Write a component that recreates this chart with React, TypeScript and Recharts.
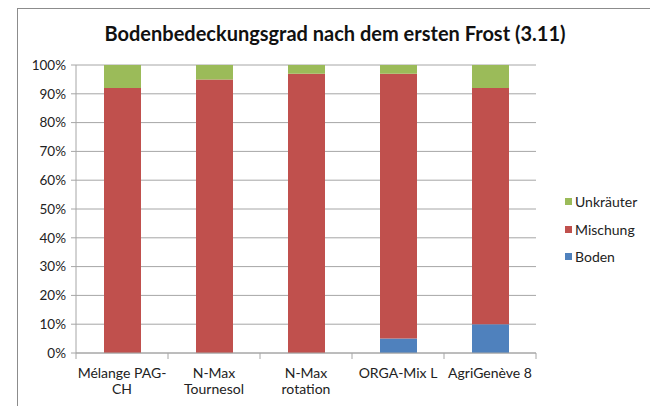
import React from 'react';
import { BarChart, Bar, XAxis, YAxis, CartesianGrid } from 'recharts';

const categories = ['Mélange PAG-CH', 'N-Max Tournesol', 'N-Max rotation', 'ORGA-Mix L', 'AgriGenève 8'];
const tickLines = [['Mélange PAG-', 'CH'], ['N-Max', 'Tournesol'], ['N-Max', 'rotation'], ['ORGA-Mix L'], ['AgriGenève 8']];
const boden = [0, 0, 0, 5, 10];
const mischung = [92, 95, 97, 92, 82];
const unkraeuter = [8, 5, 3, 3, 8];
const yTicks = [0, 10, 20, 30, 40, 50, 60, 70, 80, 90, 100];

const data = categories.map((name, i) => ({
  name,
  Boden: boden[i],
  Mischung: mischung[i],
  Unkräuter: unkraeuter[i],
}));

const legendItems = [
  { name: 'Unkräuter', color: '#9BBB59' },
  { name: 'Mischung', color: '#C0504D' },
  { name: 'Boden', color: '#4F81BD' },
];

const FONT = 'Lato, "Open Sans", sans-serif';
const W = 640;
const H = 397;
const PLOT_LEFT = 58;
const PLOT_RIGHT = 518;
const BAND = (PLOT_RIGHT - PLOT_LEFT) / categories.length;

function XTick(props: any) {
  const { x, y, payload, index } = props;
  const idx = payload.index ?? index;
  const lines = tickLines[idx] || [payload.value];
  return (
    <g>
      <line x1={x - BAND / 2} y1={y - 8} x2={x - BAND / 2} y2={y - 2} stroke="#a6a6a6" />
      {idx === categories.length - 1 && (
        <line x1={x + BAND / 2} y1={y - 8} x2={x + BAND / 2} y2={y - 2} stroke="#a6a6a6" />
      )}
      {lines.map((l: string, i: number) => (
        <text key={i} x={x} y={y + 17 + i * 16} textAnchor="middle" fontSize={14} fill="#222" fontFamily={FONT}>
          {l}
        </text>
      ))}
    </g>
  );
}

export default function App() {
  return (
    <div style={{ position: 'fixed', left: 0, top: 0, width: 650, height: 406, overflow: 'hidden', background: '#fff' }}>
      <div
        style={{
          position: 'absolute',
          left: 17,
          top: 8,
          width: W,
          height: H + 10,
          borderTop: '1px solid #8c8c8c',
          borderLeft: '1px solid #8c8c8c',
          fontFamily: FONT,
        }}
      >
        <div
          style={{
            position: 'absolute',
            left: 0,
            width: 634,
            top: 12,
            textAlign: 'center',
            fontSize: 20,
            fontWeight: 'bold',
            color: '#111',
          }}
        >
          Bodenbedeckungsgrad nach dem ersten Frost (3.11)
        </div>
        <BarChart
          width={W}
          height={H}
          data={data}
          margin={{ top: 56, right: W - PLOT_RIGHT, left: 0, bottom: 0 }}
          barSize={37}
        >
          <CartesianGrid vertical={false} stroke="#a6a6a6" />
          <XAxis
            dataKey="name"
            height={53}
            stroke="#a6a6a6"
            tickLine={false}
            tick={<XTick />}
            interval={0}
          />
          <YAxis
            domain={[0, 100]}
            ticks={yTicks}
            width={PLOT_LEFT}
            stroke="#a6a6a6"
            tickSize={5}
            tickMargin={5}
            tickFormatter={(v: number) => `${v}%`}
            tick={{ fill: '#222', fontSize: 13.5, fontFamily: FONT }}
            interval={0}
          />
          <Bar dataKey="Boden" stackId="a" fill="#4F81BD" isAnimationActive={false} />
          <Bar dataKey="Mischung" stackId="a" fill="#C0504D" isAnimationActive={false} />
          <Bar dataKey="Unkräuter" stackId="a" fill="#9BBB59" isAnimationActive={false} />
        </BarChart>
        <div style={{ position: 'absolute', left: 547, top: 179 }}>
          {legendItems.map((it) => (
            <div key={it.name} style={{ display: 'flex', alignItems: 'center', height: 27.5, fontSize: 14, color: '#222' }}>
              <span style={{ width: 7, height: 7, background: it.color, marginRight: 3, display: 'inline-block' }} />
              {it.name}
            </div>
          ))}
        </div>
      </div>
    </div>
  );
}
